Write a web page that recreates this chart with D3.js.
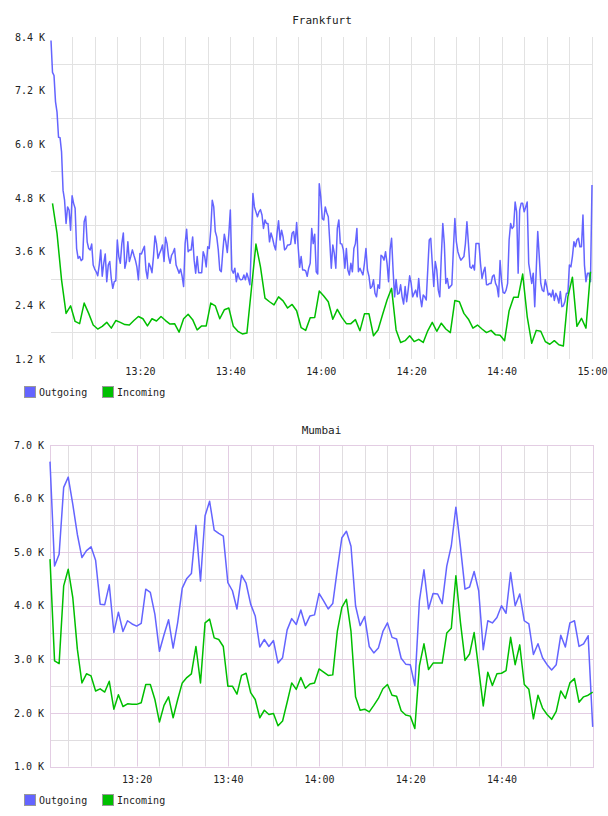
<!DOCTYPE html>
<html lang="en">
<head>
  <meta charset="UTF-8">
  <title>Frankfurt / Mumbai traffic</title>
  <script src="https://d3js.org/d3.v7.min.js"></script>
  <style>
    body { margin: 0; background: #fff; }
    svg { display: block; }
    text { font-family: "DejaVu Sans Mono", monospace; fill: #222; }
    .tick text { font-size: 10px; }
    .title { font-size: 11px; text-anchor: middle; }
    .legend text { font-size: 10px; }
  </style>
</head>
<body>
<svg width="608" height="816"></svg>
<script>
// Frankfurt (values in K), outgoing sampled every 20 s, incoming every minute
const frankfurtOutStart = "13:00:20";
const frankfurtOutStep = 20;
const frankfurtOut = [
  8.32,7.61,7.54,6.95,6.72,6.16,6.15,5.83,4.97,4.75,4.23,4.60,4.53,4.08,4.85,4.68,4.57,3.67,3.45,3.49,
  3.40,3.43,4.27,4.39,3.82,3.67,3.64,3.77,3.30,3.21,3.15,3.06,3.30,3.64,3.05,3.34,3.55,2.93,3.30,3.38,
  3.00,2.78,2.93,2.95,3.86,3.49,3.34,3.78,4.02,3.23,3.38,3.82,3.38,3.50,3.64,3.52,3.41,3.26,2.97,3.56,
  3.55,3.64,3.72,3.19,3.00,3.34,3.26,3.13,3.49,3.95,3.78,3.45,3.56,3.64,3.75,3.38,3.92,3.78,3.49,3.34,
  3.52,3.58,3.67,3.30,3.21,3.12,3.21,3.05,2.82,3.78,4.10,3.60,3.64,3.64,3.93,3.41,3.12,3.49,3.13,3.13,
  3.13,3.60,3.49,3.26,3.71,3.67,4.08,4.75,4.60,4.05,3.93,3.64,3.19,3.15,3.60,3.99,3.82,3.58,3.99,4.53,
  3.19,3.12,3.23,2.93,3.12,3.00,2.97,2.98,3.08,2.97,3.12,3.00,2.86,3.78,4.90,4.60,4.49,4.38,4.49,4.54,
  4.42,4.12,4.31,4.23,4.23,3.82,4.02,3.90,3.75,3.64,4.01,4.29,3.86,4.08,3.93,3.64,3.67,3.75,3.75,3.77,
  4.01,4.05,3.78,4.25,3.71,3.25,3.49,3.19,3.19,3.17,3.05,3.23,3.34,4.12,3.78,3.99,3.15,3.10,5.12,4.83,
  4.34,4.31,4.60,4.47,4.38,3.82,3.23,3.75,3.56,3.23,4.12,4.31,3.78,3.77,3.64,3.23,3.67,3.19,3.08,3.34,
  3.15,3.67,3.78,4.12,3.15,3.23,3.15,3.08,3.34,3.67,3.19,3.05,2.78,2.82,2.97,2.67,2.59,2.86,2.78,3.52,
  3.49,3.41,3.60,3.34,2.93,3.64,3.90,3.19,2.59,2.98,2.65,2.67,2.86,2.59,2.43,2.82,2.48,2.74,3.06,2.89,
  2.59,2.67,2.74,2.59,3.00,2.59,2.37,2.63,2.59,2.52,3.19,3.86,3.90,3.34,2.82,3.38,3.19,2.74,2.59,3.49,
  4.23,3.78,2.89,3.00,2.78,2.82,2.86,3.64,4.34,3.82,3.60,3.49,3.41,3.45,3.49,3.78,4.27,3.78,3.26,3.23,
  3.30,3.19,3.78,3.78,3.78,3.34,3.00,3.15,3.25,2.86,2.86,2.89,2.89,3.05,3.08,2.89,2.82,2.59,3.40,2.93,
  2.69,2.67,2.74,2.89,3.86,4.23,4.12,4.16,4.71,4.49,3.12,4.53,4.68,4.68,4.49,4.60,4.71,3.34,3.12,2.89,
  3.12,2.37,3.19,4.05,3.49,2.89,2.74,2.71,2.97,2.82,2.63,2.67,2.59,2.74,2.51,2.67,2.59,2.45,2.71,2.37,
  2.39,2.48,2.67,2.67,3.30,3.26,3.49,3.82,3.71,3.86,3.90,3.71,3.71,4.42,3.30,2.93,3.12,3.12,2.93,5.09
];
const frankfurtInStart = "13:00:40";
const frankfurtInStep = 60;
const frankfurtIn = [
  4.68,4.01,2.97,2.22,2.39,2.04,1.99,2.45,2.22,1.96,1.87,1.93,2.02,1.89,2.06,2.02,1.97,1.96,2.06,2.15,
  2.10,1.94,2.10,2.05,2.15,2.06,1.98,1.99,1.80,2.10,2.20,2.08,1.85,1.94,1.94,2.45,2.39,2.10,2.30,2.34,
  1.93,1.82,1.76,1.78,2.77,3.77,3.26,2.56,2.48,2.41,2.59,2.50,2.34,2.42,2.28,1.90,1.84,2.12,2.13,2.72,
  2.61,2.48,2.09,2.31,2.13,1.99,1.99,2.08,1.83,2.21,2.21,1.72,1.85,2.19,2.52,2.78,1.85,1.57,1.61,1.72,
  1.59,1.64,1.57,1.83,2.02,1.82,2.00,1.87,1.79,2.51,2.48,2.22,2.09,1.89,1.96,1.87,1.79,1.84,1.74,1.73,
  1.61,2.28,2.58,2.58,3.10,2.15,1.55,1.84,1.82,1.59,1.53,1.61,1.52,1.49,2.59,3.03,1.93,2.11,1.89,3.15
];

// Mumbai (values in K), both series every minute
const mumbaiStart = "13:01:00";
const mumbaiStep = 60;
const mumbaiOut = [
  6.69,4.74,4.96,6.21,6.40,5.89,5.33,4.90,5.03,5.10,4.85,4.03,4.02,4.39,3.50,3.88,3.52,3.72,3.66,3.62,
  3.67,4.31,4.25,3.84,3.15,3.46,3.74,3.21,3.69,4.33,4.51,4.60,5.50,4.46,5.68,5.95,5.41,5.35,5.30,4.43,
  4.28,3.94,4.57,4.42,4.03,3.81,3.23,3.37,3.24,3.35,2.93,3.03,3.55,3.76,3.65,3.92,3.63,3.81,3.83,4.23,
  4.09,3.94,4.04,4.68,5.27,5.39,5.11,4.00,3.63,3.80,3.24,3.12,3.21,3.52,3.68,3.41,3.38,3.02,2.91,2.90,
  2.51,4.09,4.67,3.94,4.23,4.22,4.04,4.74,5.12,5.84,5.10,4.31,4.35,4.64,4.28,3.18,3.72,3.68,3.78,4.00,
  3.86,4.62,4.00,4.22,3.72,3.66,3.09,3.29,3.03,2.90,2.80,2.90,3.45,3.23,3.68,3.72,3.24,3.29,3.44,1.74
];
const mumbaiIn = [
  4.87,2.97,2.92,4.37,4.68,4.15,3.19,2.56,2.73,2.69,2.41,2.45,2.39,2.59,2.07,2.34,2.12,2.17,2.16,2.16,
  2.19,2.53,2.53,2.25,1.83,2.14,2.30,1.91,2.25,2.56,2.66,2.73,3.24,2.56,3.68,3.75,3.40,3.37,3.24,2.50,
  2.50,2.35,2.70,2.74,2.38,2.25,1.91,2.05,1.97,1.99,1.76,1.85,2.20,2.56,2.44,2.66,2.46,2.54,2.56,2.82,
  2.76,2.70,2.71,3.52,3.97,4.12,3.52,2.30,2.05,2.07,2.02,2.14,2.27,2.45,2.53,2.33,2.31,2.04,1.96,1.94,
  1.71,2.88,3.29,2.81,2.93,2.93,2.93,3.49,3.58,4.56,3.69,2.98,3.10,3.50,2.82,2.13,2.76,2.51,2.73,2.74,
  2.79,3.41,2.90,3.27,2.53,2.44,1.89,2.33,2.09,1.97,1.88,2.03,2.41,2.27,2.56,2.64,2.20,2.30,2.33,2.39
];

const seriesNames = ["Outgoing", "Incoming"];
const seriesColors = ["#6464ff", "#00bf00"];

const frankfurtTimeExtent = ["13:00:20", "15:00:00"];
const frankfurtTimeTicks = ["13:20", "13:40", "14:00", "14:20", "14:40", "15:00"];
const frankfurtValueTicks = [1.2, 2.4, 3.6, 4.8, 6.0, 7.2, 8.4];
const frankfurtGridValues = [1.8, 3.0, 4.2, 5.4, 6.6, 7.8];

const mumbaiTimeExtent = ["13:01:00", "15:00:00"];
const mumbaiTimeTicks = ["13:20", "13:40", "14:00", "14:20", "14:40"];
const mumbaiValueTicks = [1, 2, 3, 4, 5, 6, 7];
const mumbaiGridValues = [1.5, 2.5, 3.5, 4.5, 5.5, 6.5];

const parseHMS = d3.timeParse("%H:%M:%S");
const parseHM = d3.timeParse("%H:%M");
const svg = d3.select("svg");

function toSeries(start, step, values) {
  const t0 = parseHMS(start).getTime();
  return values.map((v, i) => ({ t: new Date(t0 + i * step * 1000), v: v }));
}

function drawChart(o) {
  const g = svg.append("g");
  const x = d3.scaleTime().domain(o.timeExtent.map(parseHMS)).range([o.left, o.xEnd]);
  const y = d3.scaleLinear().domain([o.valueTicks[0], o.valueTicks[o.valueTicks.length - 1]])
    .range([o.bottom, o.top]);
  const crisp = v => Math.round(v) + 0.5;

  // vertical grid, every 5 minutes
  const fiveMin = d3.timeMinute.every(5).range(x.domain()[0], x.domain()[1]);
  if (+x.domain()[1] % 300000 === 0) fiveMin.push(x.domain()[1]);
  g.append("g").selectAll("line")
    .data(fiveMin)
    .join("line")
    .attr("x1", d => crisp(x(d))).attr("x2", d => crisp(x(d)))
    .attr("y1", o.top).attr("y2", o.bottom)
    .attr("stroke", d => (o.purple && d.getMinutes() % 20 === 0) ? o.majorColor : o.gridColor)
    .attr("stroke-width", 1);

  // horizontal grid
  g.append("g").selectAll("line")
    .data(o.gridValues)
    .join("line")
    .attr("x1", o.left).attr("x2", o.right)
    .attr("y1", d => crisp(y(d))).attr("y2", d => crisp(y(d)))
    .attr("stroke", o.gridColor);

  if (o.purple) {
    g.append("g").selectAll("line")
      .data(o.valueTicks)
      .join("line")
      .attr("x1", o.left).attr("x2", o.right)
      .attr("y1", d => crisp(y(d))).attr("y2", d => crisp(y(d)))
      .attr("stroke", o.majorColor);
    g.append("rect")
      .attr("x", crisp(o.left)).attr("y", crisp(o.top))
      .attr("width", Math.round(o.right - o.left)).attr("height", Math.round(o.bottom - o.top))
      .attr("fill", "none").attr("stroke", o.majorColor);
  }

  // axes (labels only)
  const yAxis = g.append("g")
    .attr("transform", `translate(${o.left - 6},0)`)
    .call(d3.axisLeft(y).tickValues(o.valueTicks).tickSize(0).tickPadding(0)
      .tickFormat(d => d3.format(".1f")(d) + " K"));
  yAxis.select(".domain").remove();

  const xAxis = g.append("g")
    .attr("transform", `translate(0,${o.bottom + 9})`)
    .call(d3.axisBottom(x).tickValues(o.timeTicks.map(t => parseHM(t)))
      .tickSize(0).tickPadding(0).tickFormat(d3.timeFormat("%H:%M")));
  xAxis.select(".domain").remove();
  xAxis.selectAll("text").attr("dy", "0.71em");
  g.selectAll(".tick text").attr("fill", "#222").style("font-family", "'DejaVu Sans Mono', monospace");

  // lines
  const line = d3.line().x(d => x(d.t)).y(d => y(d.v));
  o.series.forEach((s, i) => {
    g.append("path")
      .datum(s)
      .attr("fill", "none")
      .attr("stroke", seriesColors[i])
      .attr("stroke-width", 1.5)
      .attr("stroke-linejoin", "round")
      .attr("d", line);
  });

  // title
  g.append("text").attr("class", "title")
    .attr("x", (o.left + o.right) / 2).attr("y", o.titleY)
    .text(o.title);

  // legend
  const lg = g.append("g").attr("class", "legend")
    .attr("transform", `translate(0,${o.legendY})`);
  const items = lg.selectAll("g").data(seriesNames).join("g")
    .attr("transform", (d, i) => `translate(${24 + i * 78},0)`);
  items.append("rect")
    .attr("x", 0.5).attr("y", -5.5).attr("width", 11).attr("height", 11)
    .attr("fill", (d, i) => seriesColors[i])
    .attr("stroke", "#999");
  items.append("text")
    .attr("x", 15).attr("y", 0).attr("dy", "0.35em")
    .text(d => d);
}

drawChart({
  title: "Frankfurt",
  titleY: 24,
  left: 51, xEnd: 592, right: 593, top: 37, bottom: 359,
  timeExtent: frankfurtTimeExtent,
  timeTicks: frankfurtTimeTicks,
  valueTicks: frankfurtValueTicks,
  gridValues: frankfurtGridValues,
  gridColor: "#e2e2e2",
  purple: false,
  legendY: 392,
  series: [toSeries(frankfurtOutStart, frankfurtOutStep, frankfurtOut),
           toSeries(frankfurtInStart, frankfurtInStep, frankfurtIn)]
});

drawChart({
  title: "Mumbai",
  titleY: 434,
  left: 50, xEnd: 592.7, right: 593, top: 445, bottom: 766.5,
  timeExtent: mumbaiTimeExtent,
  timeTicks: mumbaiTimeTicks,
  valueTicks: mumbaiValueTicks,
  gridValues: mumbaiGridValues,
  gridColor: "#e0dde0",
  majorColor: "#e3cde3",
  purple: true,
  legendY: 800,
  series: [toSeries(mumbaiStart, mumbaiStep, mumbaiOut),
           toSeries(mumbaiStart, mumbaiStep, mumbaiIn)]
});
</script>
</body>
</html>
